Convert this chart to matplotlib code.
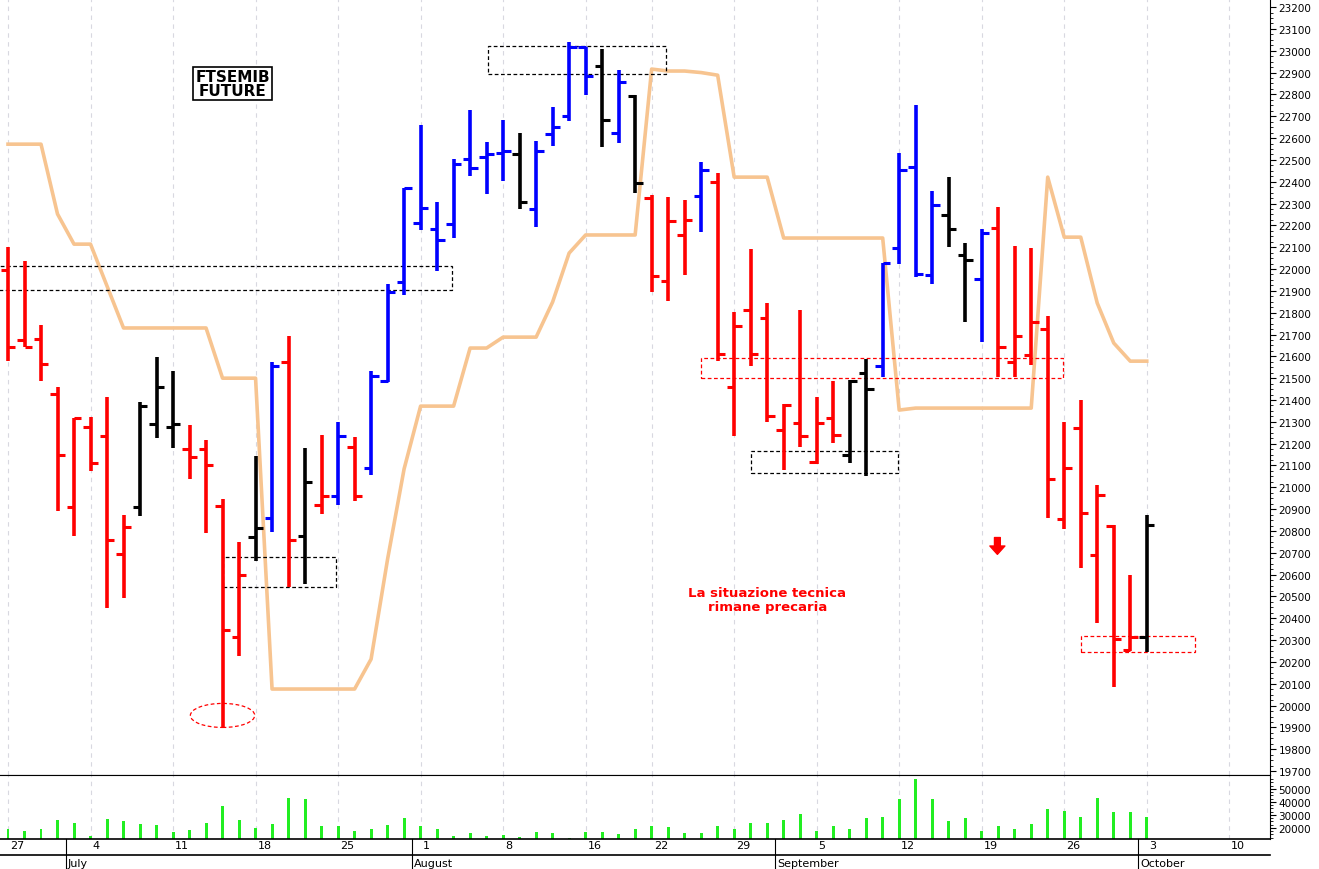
import numpy as np
import matplotlib
matplotlib.use('Agg')
import matplotlib.pyplot as plt
from matplotlib.patches import Rectangle, Ellipse
import matplotlib.transforms as mtransforms

# OHLC daily bars, 27 Jun 2016 .. 3 Oct 2016 (trading days, 15 Aug closed)
opens = [21995, 21675, 21680, 21427, 20910, 21276, 21235, 20694, 20910, 21290,
         21276, 21175, 21175, 20914, 20314, 20772, 20859, 21574, 20777, 20919,
         20960, 21184, 21088, 21487, 21940, 22210, 22183, 22206, 22504, 22515,
         22530, 22527, 22275, 22618, 22701, 23017, 22930, 22623, 22793, 22325,
         21945, 22156, 22334, 22398, 21459, 21812, 21775, 21262, 21294, 21116,
         21317, 21148, 21523, 21555, 22096, 22467, 21972, 22247, 22064, 21954,
         22188, 21574, 21606, 21725, 20854, 21271, 20690, 20822, 20254, 20314]
highs = [22100, 22036, 21743, 21459, 21317, 21322, 21413, 20873, 21390, 21597,
         21533, 21285, 21216, 20946, 20749, 21143, 21574, 21693, 21180, 21239,
         21299, 21230, 21533, 21931, 22371, 22659, 22307, 22504, 22728, 22582,
         22682, 22623, 22586, 22742, 23040, 23017, 23008, 22911, 22797, 22339,
         22330, 22316, 22490, 22440, 21803, 22091, 21844, 21381, 21812, 21413,
         21487, 21490, 21587, 22027, 22531, 22751, 22357, 22421, 22119, 22183,
         22284, 22105, 22096, 21784, 21299, 21400, 21010, 20827, 20598, 20873]
lows = [21578, 21642, 21487, 20891, 20777, 21074, 20447, 20493, 20868, 21226,
        21180, 21038, 20790, 19902, 20227, 20662, 20795, 20543, 20557, 20877,
        20919, 20937, 21056, 21482, 21881, 22178, 21991, 22142, 22426, 22343,
        22403, 22275, 22192, 22563, 22678, 22797, 22559, 22577, 22348, 21894,
        21853, 21972, 22169, 21578, 21235, 21555, 21299, 21079, 21184, 21106,
        21203, 21111, 21052, 21505, 22023, 21963, 21931, 22101, 21757, 21665,
        21505, 21505, 21560, 20859, 20809, 20630, 20378, 20085, 20250, 20245]
closes = [21642, 21642, 21565, 21148, 21317, 21111, 20758, 20818, 21372, 21459,
          21290, 21138, 21102, 20346, 20598, 20813, 21555, 20758, 21024, 20960,
          21235, 20960, 21510, 21894, 22371, 22279, 22133, 22481, 22462, 22525,
          22540, 22307, 22540, 22650, 23017, 22884, 22682, 22856, 22394, 21968,
          22220, 22224, 22453, 21610, 21739, 21610, 21326, 21377, 21235, 21294,
          21239, 21487, 21450, 22027, 22453, 21977, 22293, 22183, 22041, 22165,
          21642, 21693, 21757, 21038, 21088, 20882, 20964, 20305, 20314, 20827]
bar_colors = (['red'] * 8 + ['black'] * 3 + ['red'] * 4 + ['black', 'blue', 'red', 'black', 'red', 'blue', 'red']
              + ['blue'] * 9 + ['black'] + ['blue'] * 4 + ['black', 'blue', 'black'] + ['red'] * 3 + ['blue']
              + ['red'] * 8 + ['black'] * 2 + ['blue'] * 4 + ['black'] * 2 + ['blue'] + ['red'] * 9 + ['black'])
trail = [22572, 22572, 22572, 22252, 22114, 22114, 21922, 21730, 21730, 21730,
         21730, 21730, 21730, 21500, 21500, 21500, 20076, 20076, 20076, 20076,
         20076, 20076, 20213, 20671, 21084, 21372, 21372, 21372, 21638, 21638,
         21688, 21688, 21688, 21849, 22073, 22156, 22156, 22156, 22156, 22916,
         22907, 22907, 22900, 22888, 22421, 22421, 22421, 22142, 22142, 22142,
         22142, 22142, 22142, 22142, 21354, 21363, 21363, 21363, 21363, 21363,
         21363, 21363, 21363, 22421, 22146, 22146, 21844, 21661, 21578, 21578]
volume = [19000, 17400, 19000, 26400, 24100, 13800, 27200, 25600, 23300, 22600,
          16900, 18200, 24100, 36900, 26400, 20300, 23300, 43300, 42600, 21300,
          21300, 17900, 19000, 22600, 27700, 21500, 19500, 13800, 15900, 13800,
          14400, 13100, 16900, 16200, 12300, 16900, 16900, 15400, 19500, 21300,
          20800, 16200, 16400, 21300, 19000, 24100, 24100, 25900, 31000, 17700,
          21500, 19500, 27700, 28500, 42100, 58000, 42100, 25400, 27700, 17700,
          21500, 19500, 23300, 34400, 33100, 28500, 43300, 32300, 32300, 28500]

week_idx = [0, 5, 10, 15, 20, 25, 30, 35, 39, 44, 49, 54, 59, 64, 69, 74]
week_lbl = ['27', '4', '11', '18', '25', '1', '8', '16', '22', '29', '5', '12', '19', '26', '3', '10']
month_idx = [4, 25, 47, 69]
month_lbl = ['July', 'August', 'September', 'October']

x = np.arange(len(opens))
fig = plt.figure(figsize=(13.19, 8.70), dpi=100)
ax = fig.add_axes([0, 0.108, 0.963, 0.892])
axv = fig.add_axes([0, 0.0345, 0.963, 0.0736], sharex=ax)

for a in (ax, axv):
    for xi in week_idx:
        a.axvline(xi, color='#d8d8e0', lw=0.8, ls=(0, (4, 4)), zorder=0)

ax.plot(x, trail, color='#f7c490', lw=2.6, zorder=1)
for i in x:
    c = bar_colors[i]
    ax.vlines(i, lows[i], highs[i], color=c, lw=2.6, zorder=3)
    ax.hlines(opens[i], i - 0.45, i, color=c, lw=2.2, zorder=3)
    ax.hlines(closes[i], i, i + 0.45, color=c, lw=2.2, zorder=3)

# annotation boxes
boxes = [(-0.6, 21904, 27.5, 110, 'black'), (29.1, 22893, 10.8, 128, 'black'),
         (13.0, 20543, 6.9, 137, 'black'), (45.0, 21065, 8.9, 101, 'black'),
         (42.0, 21500, 21.9, 92, 'red'), (65.0, 20245, 6.9, 74, 'red')]
for bx, by, bw, bh, bc in boxes:
    ax.add_patch(Rectangle((bx, by), bw, bh, fill=False, ec=bc, lw=0.9, ls=(0, (3, 2)), zorder=2))
ax.add_patch(Ellipse((13.0, 19955), 3.9, 110, fill=False, ec='red', lw=0.9, ls=(0, (3, 2)), zorder=2))

ax.text(13.6, 22850, 'FTSEMIB\nFUTURE', ha='center', va='center', fontsize=11, fontweight='bold',
        linespacing=0.9, bbox=dict(boxstyle='square,pad=0.12', fc='white', ec='black', lw=1.2))
ax.text(46, 20485, 'La situazione tecnica\nrimane precaria', ha='center', va='center', color='red',
        fontsize=9.5, fontweight='bold', linespacing=1.1)
ax.annotate('', xy=(59.95, 20693), xytext=(59.95, 20770),
            arrowprops=dict(arrowstyle='simple,head_length=0.5,head_width=0.9,tail_width=0.35',
                            color='red', mutation_scale=12, shrinkA=0, shrinkB=0))

ax.set_xlim(-0.485, 76.48)
ax.set_ylim(19682, 23237)
ax.yaxis.tick_right()
ax.set_yticks(np.arange(19700, 23201, 100))
ax.set_yticks(np.arange(19700, 23201, 25), minor=True)
ax.tick_params(axis='y', labelsize=7.5, length=4, pad=2)
ax.tick_params(axis='y', which='minor', length=2)
ax.tick_params(axis='x', bottom=False, labelbottom=False)
for s in ['left', 'top']:
    ax.spines[s].set_visible(False)

axv.bar(x, volume, width=0.18, color='#22ee22', zorder=2)
axv.set_ylim(11500, 60800)
axv.yaxis.tick_right()
axv.set_yticks([20000, 30000, 40000, 50000])
axv.set_yticks(np.arange(12500, 60000, 2500), minor=True)
axv.tick_params(axis='y', labelsize=7.5, length=4, pad=2)
axv.tick_params(axis='y', which='minor', length=2)
axv.set_xticks(week_idx)
axv.set_xticklabels(week_lbl, ha='left', fontsize=8)
axv.tick_params(axis='x', length=0, pad=1)
for lab in axv.get_xticklabels():
    lab.set_transform(lab.get_transform() + mtransforms.ScaledTranslation(2 / 100, 0, fig.dpi_scale_trans))
axv.spines['left'].set_visible(False)
axv.spines['bottom'].set_linewidth(1.2)

trans = mtransforms.blended_transform_factory(axv.transData, fig.transFigure)
fig.add_artist(plt.Line2D([0, 0.963], [14 / 870, 14 / 870], color='black', lw=1.2, transform=fig.transFigure))
for mi, ml in zip(month_idx, month_lbl):
    fig.add_artist(plt.Line2D([mi - 0.5, mi - 0.5], [0, 30 / 870], color='black', lw=0.8, transform=trans))
    fig.text(mi - 0.4, 1 / 870, ml, transform=trans, fontsize=8, ha='left', va='bottom')

fig.savefig('out.png', dpi=100)
